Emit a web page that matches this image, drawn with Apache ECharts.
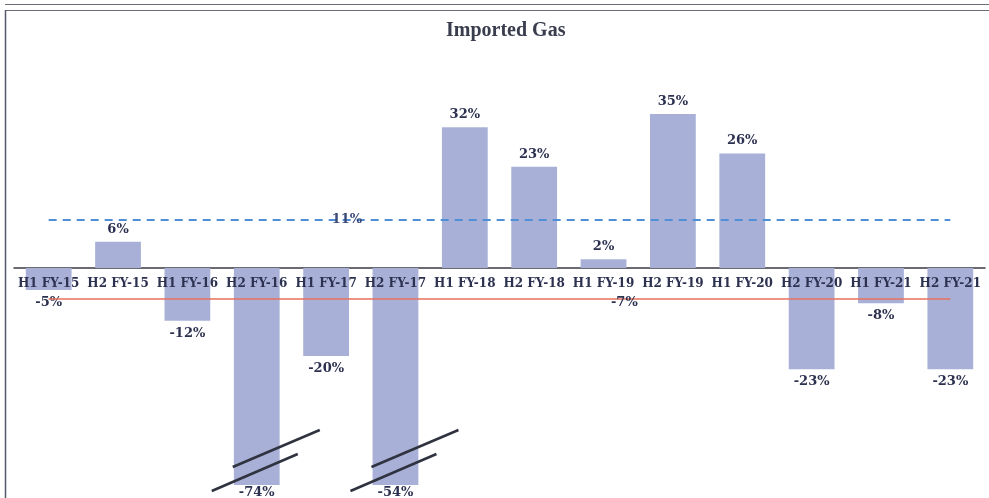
<!DOCTYPE html>
<html>
<head>
<meta charset="utf-8">
<script src="https://cdn.jsdelivr.net/npm/echarts@6/dist/echarts.min.js"></script>
<style>
html,body{margin:0;padding:0;background:#fff;}
#main{width:989px;height:498px;}
</style>
</head>
<body>
<div id="main"></div>
<script>
var title = 'Imported Gas';
var categories = ['H1 FY-15','H2 FY-15','H1 FY-16','H2 FY-16','H1 FY-17','H2 FY-17','H1 FY-18','H2 FY-18','H1 FY-19','H2 FY-19','H1 FY-20','H2 FY-20','H1 FY-21','H2 FY-21'];
var values = [-5, 6, -12, -74, -20, -54, 32, 23, 2, 35, 26, -23, -8, -23];
var upperLineValue = 11;
var lowerLineValue = -7;
var brokenIdx = [3, 5];

var serif = '"DejaVu Serif", serif';
var textCol = '#2c3150';

var chart = echarts.init(document.getElementById('main'), null, {renderer: 'canvas'});
var option = {
  backgroundColor: '#ffffff',
  animation: false,
  title: {
    text: title, left: 441, top: 16,
    textStyle: {fontFamily: '"Liberation Serif", serif', fontWeight: 'bold', fontSize: 20, color: '#3a3d4e'}
  },
  grid: {left: 14, right: 4, top: 48, bottom: 13, outerBoundsMode: 'none', containLabel: false},
  xAxis: {
    type: 'category', data: categories,
    axisLine: {onZero: true, lineStyle: {color: '#3a3a42', width: 1.5}},
    axisTick: {show: false},
    axisLabel: {show: false}
  },
  yAxis: {
    type: 'value', min: -49.3, max: 50,
    axisLine: {show: false}, axisTick: {show: false}, axisLabel: {show: false},
    splitLine: {show: false}
  },
  series: [{
    type: 'bar', barWidth: '66%', clip: true,
    data: values.map(function (v) {
      return {value: v, label: v < 0 ? {position: 'bottom', distance: v < -49 ? 1 : 6} : {}};
    }),
    itemStyle: {color: '#a8b0d7'},
    label: {
      show: true, formatter: '{c}%', fontFamily: serif, fontWeight: 'bold', fontSize: 13, color: textCol,
      position: 'top', distance: 6
    },
    markLine: {
      silent: true, symbol: 'none', label: {show: false},
      data: [
        [{xAxis: 0, yAxis: upperLineValue, lineStyle: {color: '#4f8fd6', type: [8, 6], width: 2}},
         {xAxis: 13, yAxis: upperLineValue}],
        [{xAxis: 0, yAxis: lowerLineValue, lineStyle: {color: '#e8705c', type: 'solid', width: 1.5}},
         {xAxis: 13, yAxis: lowerLineValue}]
      ]
    }
  }]
};
chart.setOption(option);

function px(idx, val) { return chart.convertToPixel({xAxisIndex: 0, yAxisIndex: 0}, [idx, val]); }
var p0 = px(0, 0), p1 = px(1, 0);
var step = p1[0] - p0[0];
var graphics = [];
graphics.push({type: 'line', shape: {x1: 5, y1: 4.5, x2: 989, y2: 4.5}, style: {stroke: '#6b6d78', lineWidth: 1.2}});
graphics.push({type: 'line', shape: {x1: 5, y1: 10.5, x2: 989, y2: 10.5}, style: {stroke: '#6b6d78', lineWidth: 1.2}});
graphics.push({type: 'line', shape: {x1: 5.5, y1: 10, x2: 5.5, y2: 498}, style: {stroke: '#55586a', lineWidth: 1.5}});
categories.forEach(function (c, i) {
  var p = px(i, 0);
  graphics.push({type: 'text', x: p[0], y: p[1] + 16, z: 10,
    style: {text: c, font: 'bold 12px ' + serif, fill: textCol, align: 'center', verticalAlign: 'middle'}});
});
var yU = px(0, upperLineValue)[1];
var yL = px(0, lowerLineValue)[1];
graphics.push({type: 'text', x: p0[0] + 4.3 * step, y: yU, z: 10, style: {text: upperLineValue + '%', font: 'bold 13px ' + serif, fill: '#3b4a78', align: 'center', verticalAlign: 'middle'}});
graphics.push({type: 'text', x: p0[0] + 8.3 * step, y: yL + 4, z: 10, style: {text: lowerLineValue + '%', font: 'bold 13px ' + serif, fill: textCol, align: 'center', verticalAlign: 'middle'}});
var yb = chart.convertToPixel({yAxisIndex: 0}, -49.3);
brokenIdx.forEach(function (i) {
  var cx = px(i, 0)[0];
  graphics.push({type: 'line', z: 10, shape: {x1: cx - 45, y1: yb + 6, x2: cx + 41, y2: yb - 31}, style: {stroke: '#2f3340', lineWidth: 2.5}});
  graphics.push({type: 'line', z: 10, shape: {x1: cx - 24, y1: yb - 18, x2: cx + 63, y2: yb - 55}, style: {stroke: '#2f3340', lineWidth: 2.5}});
});
chart.setOption({graphic: graphics});
</script>
</body>
</html>
